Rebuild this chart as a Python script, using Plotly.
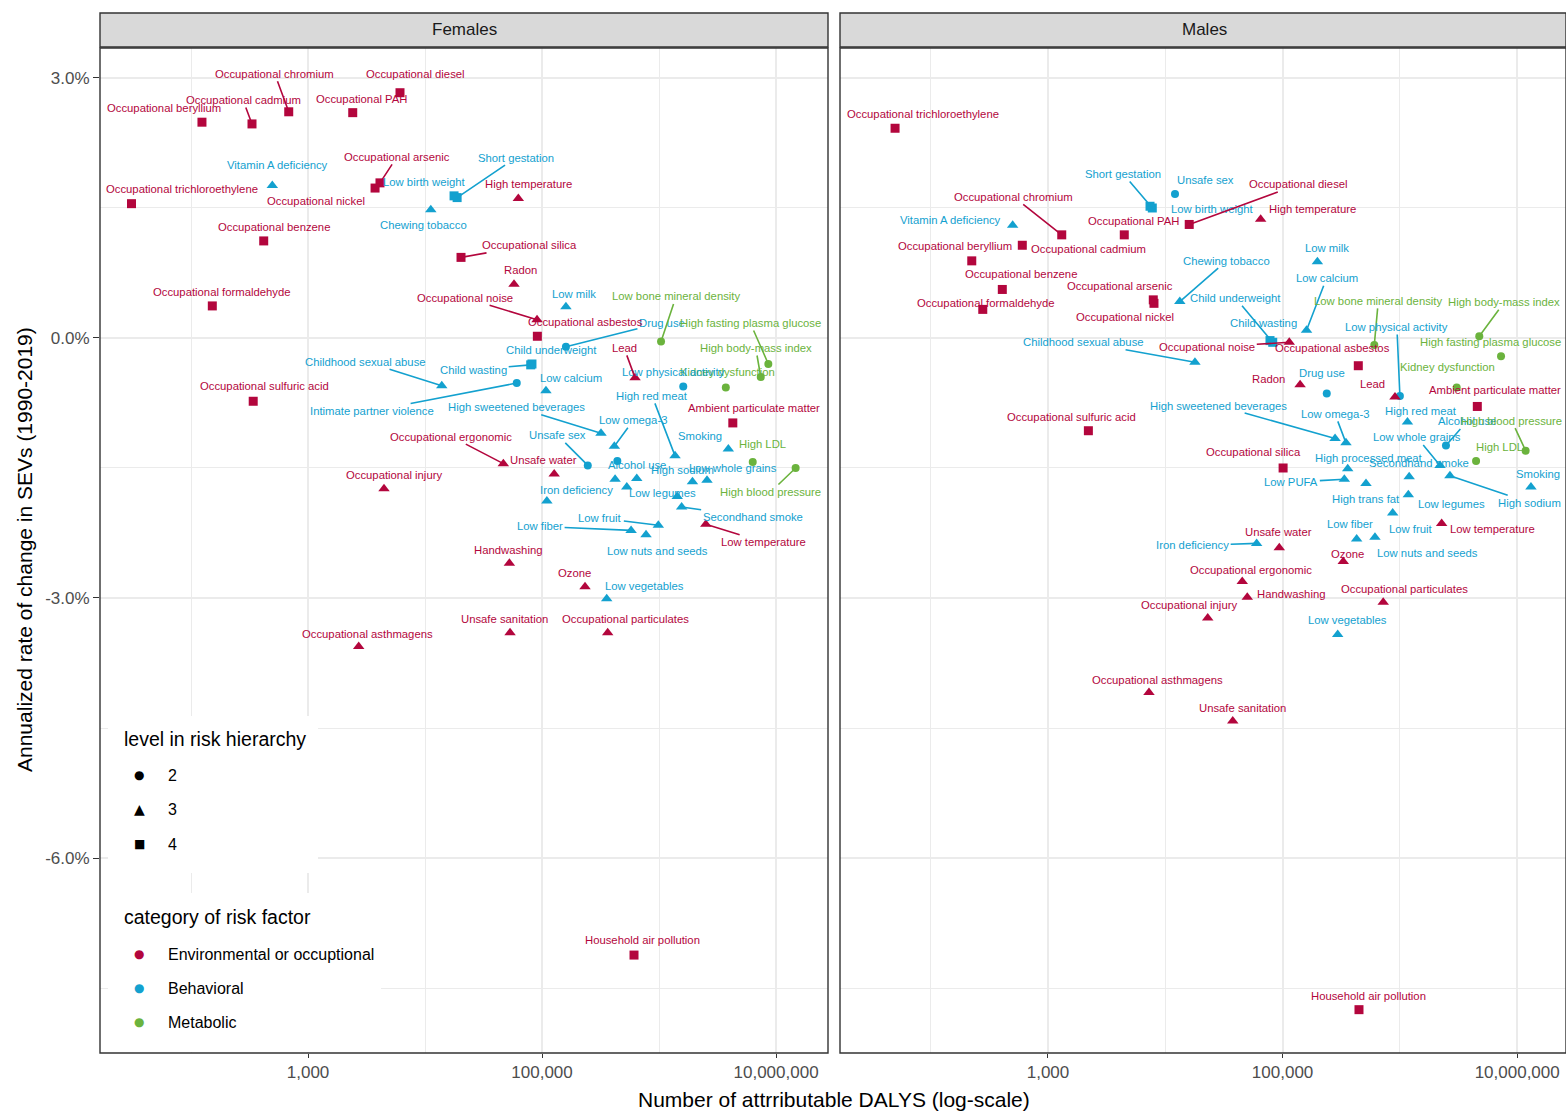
import math
import plotly.graph_objects as go

# ---------------- data: Females ----------------
f_risk = ["Occupational beryllium", "Occupational cadmium", "Occupational chromium", "Occupational PAH",
          "Occupational diesel", "Vitamin A deficiency", "Occupational trichloroethylene", "Occupational arsenic",
          "Occupational nickel", "Low birth weight", "Short gestation", "Chewing tobacco", "Occupational benzene",
          "Occupational silica", "High temperature", "Radon", "Occupational formaldehyde",
          "Occupational sulfuric acid", "Childhood sexual abuse", "Intimate partner violence", "Child wasting",
          "Child underweight", "Drug use", "Low milk", "Occupational noise", "Occupational asbestos",
          "Low bone mineral density", "High fasting plasma glucose", "High body-mass index", "Kidney dysfunction",
          "Low physical activity", "Lead", "Low calcium", "High red meat", "Ambient particulate matter",
          "Low omega-3", "Unsafe sex", "Occupational ergonomic", "Unsafe water", "Smoking", "High LDL",
          "High blood pressure", "Alcohol use", "High sodium", "Low whole grains", "High processed meat",
          "Low PUFA", "High trans fat", "Iron deficiency", "Low legumes", "Secondhand smoke", "Low fiber",
          "Low fruit", "Low nuts and seeds", "Low temperature", "Handwashing", "Ozone", "Low vegetables",
          "Unsafe sanitation", "Occupational particulates", "Occupational injury", "Occupational asthmagens",
          "Household air pollution", "High sweetened beverages"]
f_dalys = [124, 332, 684, 2410, 6110, 495, 31, 4120, 3740, 17700, 18800, 11200, 418, 20300, 62700, 57600, 152,
           340, 13900, 60800, 80000, 82000, 160000, 160000, 90600, 91200, 1040000, 8590000, 7400000, 3720000,
           1610000, 624000, 108000, 1370000, 4270000, 415000, 246000, 46700, 127000, 3910000, 6320000,
           14700000, 440000, 1930000, 2570000, 421000, 645000, 530000, 110000, 1430000, 1560000, 577000,
           986000, 774000, 2510000, 52600, 233000, 357000, 53300, 364000, 4460, 2710, 611000, 319000]
f_change = [2.49, 2.47, 2.61, 2.60, 2.83, 1.76, 1.55, 1.79, 1.73, 1.64, 1.62, 1.48, 1.12, 0.93, 1.61, 0.62, 0.37,
            -0.73, -0.55, -0.52, -0.31, -0.30, -0.10, 0.36, 0.21, 0.02, -0.04, -0.30, -0.45, -0.57, -0.56,
            -0.46, -0.61, -1.36, -0.98, -1.25, -1.47, -1.45, -1.57, -1.28, -1.43, -1.50, -1.42, -1.66, -1.64,
            -1.63, -1.62, -1.72, -1.88, -1.83, -1.95, -2.22, -2.16, -2.27, -2.15, -2.60, -2.87, -3.01, -3.40,
            -3.40, -1.74, -3.56, -7.12, -1.10]
f_level = [4, 4, 4, 4, 4, 3, 4, 4, 4, 4, 4, 3, 4, 4, 3, 3, 4, 4, 3, 2, 4, 4, 2, 3, 3, 4, 2, 2, 2, 2, 2, 3, 3, 3,
           4, 3, 2, 3, 3, 3, 2, 2, 2, 3, 3, 3, 3, 3, 3, 3, 3, 3, 3, 3, 3, 3, 3, 3, 3, 3, 3, 3, 4, 3]
f_cat = ["E", "E", "E", "E", "E", "B", "E", "E", "E", "B", "B", "B", "E", "E", "E", "E", "E", "E", "B", "B", "B",
         "B", "B", "B", "E", "E", "M", "M", "M", "M", "B", "E", "B", "B", "E", "B", "B", "E", "E", "B", "M", "M",
         "B", "B", "B", "B", "B", "B", "B", "B", "B", "B", "B", "B", "E", "E", "E", "B", "E", "E", "E", "E", "E",
         "B"]

# ---------------- data: Males ----------------
m_risk = ["Occupational trichloroethylene", "Short gestation", "Low birth weight", "Unsafe sex",
          "Occupational diesel", "Occupational chromium", "Vitamin A deficiency", "Occupational PAH",
          "Occupational beryllium", "Occupational cadmium", "Occupational benzene", "Occupational arsenic",
          "Occupational nickel", "Occupational formaldehyde", "Childhood sexual abuse",
          "Occupational sulfuric acid", "Chewing tobacco", "Child underweight", "Child wasting", "Low calcium",
          "Low milk", "High temperature", "Occupational noise", "Occupational asbestos",
          "Low bone mineral density", "Low physical activity", "High body-mass index",
          "High fasting plasma glucose", "Kidney dysfunction", "Drug use", "Radon", "Lead",
          "Ambient particulate matter", "High sweetened beverages", "Low omega-3", "High red meat", "Alcohol use",
          "High blood pressure", "Low whole grains", "High LDL", "Occupational silica", "High processed meat",
          "Secondhand smoke", "High sodium", "Low legumes", "Low PUFA", "High trans fat", "Low fruit",
          "Low fiber", "Low nuts and seeds", "Low temperature", "Smoking", "Iron deficiency", "Unsafe water",
          "Ozone", "Occupational ergonomic", "Handwashing", "Occupational particulates", "Occupational injury",
          "Low vegetables", "Occupational asthmagens", "Unsafe sanitation", "Household air pollution"]
m_dalys = [49.7, 7750, 7410, 12100, 16000, 1310, 500, 4470, 224, 604, 408, 7900, 8010, 278, 17900, 2210, 13300,
           82400, 78100, 160000, 198000, 65000, 114000, 442000, 605000, 1000000, 4750000, 7280000, 3050000,
           238000, 141000, 908000, 4570000, 280000, 347000, 1160000, 2470000, 11800000, 2200000, 4460000,
           101000, 359000, 1200000, 2670000, 1180000, 336000, 514000, 868000, 428000, 613000, 2270000, 13100000,
           60100, 93700, 329000, 45300, 50000, 721000, 23000, 295000, 7260, 37600, 448000]
m_change = [2.42, 1.50, 1.52, 1.66, 1.31, 1.19, 1.30, 1.19, 0.89, 1.07, 0.56, 0.44, 0.40, 0.33, -0.28, -1.07,
            0.42, -0.05, -0.03, 0.09, 0.88, 1.37, -0.05, -0.32, -0.08, -0.67, 0.02, -0.21, -0.57, -0.64, -0.54,
            -0.68, -0.79, -1.16, -1.21, -0.97, -1.24, -1.30, -1.47, -1.42, -1.50, -1.51, -1.60, -1.59, -1.81,
            -1.63, -1.68, -2.02, -2.32, -2.30, -2.14, -1.72, -2.37, -2.42, -2.58, -2.81, -2.99, -3.05, -3.23,
            -3.42, -4.09, -4.42, -7.75]
m_level = [4, 4, 4, 2, 4, 4, 3, 4, 4, 4, 4, 4, 4, 4, 3, 4, 3, 4, 4, 3, 3, 3, 3, 4, 2, 2, 2, 2, 2, 2, 3, 3, 4, 3,
           3, 3, 2, 2, 3, 2, 4, 3, 3, 3, 3, 3, 3, 3, 3, 3, 3, 3, 3, 3, 3, 3, 3, 3, 3, 3, 3, 3, 4]
m_cat = ["E", "B", "B", "B", "E", "E", "B", "E", "E", "E", "E", "E", "E", "E", "B", "E", "B", "B", "B", "B", "B",
         "E", "E", "E", "M", "B", "M", "M", "M", "B", "E", "E", "E", "B", "B", "B", "B", "M", "B", "M", "E", "B",
         "B", "B", "B", "B", "B", "B", "B", "B", "E", "B", "B", "E", "E", "E", "E", "E", "E", "B", "E", "E", "E"]

panels = ["Females", "Males"]
x_ticks = [1e3, 1e5, 1e7]
x_ticktext = ["1,000", "100,000", "10,000,000"]
y_ticks = [3, 0, -3, -6]
y_ticktext = ["3.0%", "0.0%", "-3.0%", "-6.0%"]
level_names = ["2", "3", "4"]
cat_codes = ["E", "B", "M"]
cat_names = ["Environmental or occuptional", "Behavioral", "Metabolic"]

# ---------------- styling / label placement (pixel offsets) ----------------
COL = {"E": "#B3063D", "B": "#13A1CF", "M": "#6BB33D"}
SYM = {2: "circle", 3: "triangle-up", 4: "square"}
SIZE = {2: 8, 3: 10, 4: 9}
FONT = "Liberation Sans, Arial, sans-serif"

F_LAB = {
    "Occupational beryllium": (-38, -14, 0), "Occupational cadmium": (-9, -24, 1),
    "Occupational chromium": (-14, -38, 1), "Occupational PAH": (9, -14, 0), "Occupational diesel": (15, -19, 0),
    "Vitamin A deficiency": (5, -20, 0), "Occupational trichloroethylene": (50, -15, 0),
    "Occupational arsenic": (17, -26, 1), "Occupational nickel": (-59, 13, 0), "Low birth weight": (-30, -14, 0),
    "Short gestation": (59, -40, 1), "Chewing tobacco": (-7, 15, 0), "Occupational benzene": (10, -14, 0),
    "Occupational silica": (68, -12, 1), "High temperature": (10, -14, 0), "Radon": (6, -14, 0),
    "Occupational formaldehyde": (10, -14, 0), "Occupational sulfuric acid": (11, -15, 0),
    "Childhood sexual abuse": (-76, -24, 1), "Intimate partner violence": (-145, 28, 1),
    "Child wasting": (-57, 5, 1), "Child underweight": (20, -14, 0), "Drug use": (96, -24, 1),
    "Low milk": (8, -13, 0), "Occupational noise": (-72, -22, 1), "Occupational asbestos": (48, -14, 0),
    "Low bone mineral density": (15, -45, 1), "High fasting plasma glucose": (-18, -41, 1),
    "High body-mass index": (-5, -29, 1), "Kidney dysfunction": (2, -15, 0),
    "Low physical activity": (-10, -15, 0), "Lead": (-11, -30, 1), "Low calcium": (25, -13, 0),
    "High red meat": (-23, -60, 1), "Ambient particulate matter": (21, -15, 0), "Low omega-3": (19, -26, 1),
    "Unsafe sex": (-30, -30, 1), "Occupational ergonomic": (-52, -27, 1), "Unsafe water": (-11, -14, 0),
    "Smoking": (-28, -13, 0), "High LDL": (10, -18, 0), "High blood pressure": (-25, 24, 1),
    "Alcohol use": (20, 4, 0), "High sodium": (-10, -12, 0), "Low whole grains": (26, -12, 0),
    "Iron deficiency": (30, -11, 0), "Low legumes": (-15, -4, 0), "Secondhand smoke": (71, 10, 1),
    "Low fiber": (-91, -4, 1), "Low fruit": (-58, -7, 1), "Low nuts and seeds": (11, 16, 0),
    "Low temperature": (58, 18, 1), "Handwashing": (-1, -13, 0), "Ozone": (-11, -14, 0),
    "Low vegetables": (38, -13, 0), "Unsafe sanitation": (-6, -14, 0), "Occupational particulates": (18, -14, 0),
    "Occupational injury": (10, -14, 0), "Occupational asthmagens": (9, -13, 0),
    "Household air pollution": (8, -15, 0), "High sweetened beverages": (-84, -26, 1),
}
M_LAB = {
    "Occupational trichloroethylene": (28, -14, 0), "Short gestation": (-29, -34, 1),
    "Low birth weight": (62, 3, 0), "Unsafe sex": (30, -14, 0), "Occupational diesel": (109, -40, 1),
    "Occupational chromium": (-48, -38, 1), "Vitamin A deficiency": (-62, -5, 0), "Occupational PAH": (9, -14, 0),
    "Occupational beryllium": (-17, -15, 0), "Occupational cadmium": (66, 4, 0),
    "Occupational benzene": (19, -15, 0), "Occupational arsenic": (-33, -14, 0),
    "Occupational nickel": (-29, 14, 0), "Occupational formaldehyde": (3, -6, 0),
    "Childhood sexual abuse": (-111, -20, 1), "Occupational sulfuric acid": (-17, -14, 0),
    "Chewing tobacco": (47, -41, 1), "Child underweight": (-37, -44, 1), "Child wasting": (-7, -18, 0),
    "Low calcium": (20, -52, 1), "Low milk": (10, -14, 0), "High temperature": (52, -10, 0),
    "Occupational noise": (-82, 5, 1), "Occupational asbestos": (-26, -18, 0),
    "Low bone mineral density": (4, -44, 1), "Low physical activity": (-3, -69, 1),
    "High body-mass index": (25, -34, 1), "High fasting plasma glucose": (-11, -14, 0),
    "Kidney dysfunction": (-9, -20, 0), "Drug use": (-5, -20, 0), "Radon": (-32, -6, 0), "Lead": (-22, -13, 0),
    "Ambient particulate matter": (18, -16, 0), "High sweetened beverages": (-117, -33, 1),
    "Low omega-3": (-11, -29, 1), "High red meat": (14, -11, 0), "Alcohol use": (21, -24, 1),
    "High blood pressure": (-14, -30, 1), "Low whole grains": (-23, -28, 1), "High LDL": (23, -14, 0),
    "Occupational silica": (-30, -16, 0), "High processed meat": (21, -11, 0), "Secondhand smoke": (10, -14, 0),
    "High sodium": (80, 27, 1), "Low legumes": (43, 9, 0), "Low PUFA": (-53, 3, 1), "High trans fat": (0, 15, 0),
    "Low fruit": (18, 16, 0), "Low fiber": (-7, -15, 0), "Low nuts and seeds": (53, 16, 0),
    "Low temperature": (51, 6, 0), "Smoking": (7, -13, 0), "Iron deficiency": (-64, 2, 1),
    "Unsafe water": (-1, -16, 0), "Ozone": (4, -8, 0), "Occupational ergonomic": (9, -12, 0),
    "Handwashing": (44, -3, 0), "Occupational particulates": (21, -13, 0), "Occupational injury": (-19, -13, 0),
    "Low vegetables": (10, -14, 0), "Occupational asthmagens": (9, -12, 0), "Unsafe sanitation": (10, -13, 0),
    "Household air pollution": (10, -14, 0),
}

# figure fills the whole window (page margin removed below)
OFF = 0
W, H = 1566, 1112
ML, MR, MT, MB = 100, 0, 48, 59
PW, PH = W - ML - MR, H - MT - MB


def px(sx):
    return (sx - OFF - ML) / PW


def py(sy):
    return (H - MB - (sy - OFF)) / PH


dom_f = [0, px(828)]
dom_m = [px(840), 1]

fig = go.Figure()

datasets = [(f_risk, f_dalys, f_change, f_level, f_cat, F_LAB, "x", "y"),
            (m_risk, m_dalys, m_change, m_level, m_cat, M_LAB, "x2", "y2")]

for risk, dalys, chg, lev, cat, lab, xa, ya in datasets:
    fig.add_trace(go.Scatter(
        x=dalys, y=chg, mode="markers", xaxis=xa, yaxis=ya, text=risk, hoverinfo="text",
        marker=dict(symbol=[SYM[l] for l in lev], size=[SIZE[l] for l in lev], opacity=1,
                    color=[COL[c] for c in cat], line=dict(width=0)),
        showlegend=False))
    for n, d, c, k in zip(risk, dalys, chg, cat):
        if n not in lab:
            continue
        dx, dy, seg = lab[n]
        fig.add_annotation(
            x=math.log10(d), y=c, xref=xa, yref=ya, text=n, showarrow=True,
            ax=dx, ay=dy, axref="pixel", ayref="pixel", arrowhead=0, arrowwidth=1.6, standoff=0,
            xanchor="center", yanchor="middle",
            arrowcolor=COL[k] if seg else "rgba(0,0,0,0)",
            font=dict(size=11.3, color=COL[k], family=FONT))

grid = "#EBEBEB"
xcommon = dict(type="log", tickmode="array", tickvals=x_ticks, ticktext=x_ticktext,
               showgrid=True, gridcolor=grid, gridwidth=2, zeroline=False, showline=False,
               ticks="outside", ticklen=4, tickcolor="#333333", tickwidth=1.2,
               tickfont=dict(size=17, color="#4D4D4D", family=FONT),
               minor=dict(tickmode="array", tickvals=[1e2, 1e4, 1e6], showgrid=True, gridcolor=grid,
                          gridwidth=1, ticks=""))
ycommon = dict(range=[-8.25, 3.346], tickmode="array", tickvals=y_ticks, ticktext=y_ticktext,
               showgrid=True, gridcolor=grid, gridwidth=2, zeroline=False, showline=False,
               minor=dict(tickmode="array", tickvals=[1.5, -1.5, -4.5, -7.5], showgrid=True, gridcolor=grid,
                          gridwidth=1, ticks=""))

fig.update_layout(
    width=W, height=H, margin=dict(l=ML, r=MR, t=MT, b=MB),
    paper_bgcolor="white", plot_bgcolor="white",
    font=dict(family=FONT),
    xaxis=dict(domain=dom_f, anchor="y", range=[1.222, 7.444], **xcommon),
    xaxis2=dict(domain=dom_m, anchor="y2", range=[1.227, 7.416], **xcommon),
    yaxis=dict(domain=[0, 1], anchor="x", ticks="outside", ticklen=6, tickcolor="#333333", tickwidth=1.2,
               tickfont=dict(size=17, color="#4D4D4D", family=FONT), **ycommon),
    yaxis2=dict(domain=[0, 1], anchor="x2", matches="y", showticklabels=False, ticks="", **ycommon),
    hovermode="closest",
)

shapes = []
# legend background boxes
shapes.append(dict(type="rect", xref="paper", yref="paper", x0=px(108), x1=px(318), y0=py(873), y1=py(716),
                   fillcolor="white", line=dict(width=0), layer="above"))
shapes.append(dict(type="rect", xref="paper", yref="paper", x0=px(108), x1=px(381), y0=py(1052), y1=py(893),
                   fillcolor="white", line=dict(width=0), layer="above"))
# panel borders and facet strips
for dom, name in zip([dom_f, dom_m], panels):
    shapes.append(dict(type="rect", xref="paper", yref="paper", x0=dom[0], x1=dom[1], y0=0, y1=1,
                       line=dict(color="#333333", width=1.4), fillcolor="rgba(0,0,0,0)", layer="above"))
    shapes.append(dict(type="rect", xref="paper", yref="paper", x0=dom[0], x1=dom[1], y0=py(47), y1=py(13),
                       line=dict(color="#333333", width=1.4), fillcolor="#D9D9D9", layer="above"))
    fig.add_annotation(x=(px(464) if name == "Females" else px(1204)), y=py(29),
                       xref="paper", yref="paper", text=name,
                       xanchor="center", yanchor="middle",
                       showarrow=False, font=dict(size=17, color="#1A1A1A", family=FONT))
fig.update_layout(shapes=shapes)

# axis titles
fig.add_annotation(x=px(834), y=py(1099), xref="paper", yref="paper", showarrow=False,
                   xanchor="center", yanchor="middle",
                   text="Number of attrributable DALYS (log-scale)",
                   font=dict(size=21, color="#000000", family=FONT))
fig.add_annotation(x=px(24), y=py(550), xref="paper", yref="paper", showarrow=False, textangle=-90,
                   xanchor="center", yanchor="middle",
                   text="Annualized rate of change in SEVs (1990-2019)",
                   font=dict(size=21, color="#000000", family=FONT))

# legends
fig.add_annotation(x=px(122), y=py(739), xref="paper", yref="paper", xanchor="left", yanchor="middle",
                   showarrow=False,
                   text="level in risk hierarchy", font=dict(size=19.5, color="#000000", family=FONT))
glyph = {"2": "\u25CF", "3": "\u25B2", "4": "\u25A0"}
for i, nm in enumerate(level_names):
    yy = [775, 809, 844][i]
    fig.add_annotation(x=px(139), y=py(yy), xref="paper", yref="paper", showarrow=False, text=glyph[nm],
                       xanchor="center", yanchor="middle",
                       font=dict(size=[12, 14, 12][i], color="#000000", family="DejaVu Sans"))
    fig.add_annotation(x=px(166), y=py(yy), xref="paper", yref="paper", xanchor="left", yanchor="middle",
                       showarrow=False, text=nm, font=dict(size=16, color="#000000", family=FONT))
fig.add_annotation(x=px(122), y=py(917), xref="paper", yref="paper", xanchor="left", yanchor="middle",
                   showarrow=False,
                   text="category of risk factor", font=dict(size=19.5, color="#000000", family=FONT))
for i, (code, nm) in enumerate(zip(cat_codes, cat_names)):
    yy = [954, 988, 1022][i]
    fig.add_annotation(x=px(139), y=py(yy), xref="paper", yref="paper", showarrow=False, text="\u25CF",
                       xanchor="center", yanchor="middle",
                       font=dict(size=12, color=COL[code], family="DejaVu Sans"))
    fig.add_annotation(x=px(166), y=py(yy), xref="paper", yref="paper", xanchor="left", yanchor="middle",
                       showarrow=False, text=nm, font=dict(size=16, color="#000000", family=FONT))

fig.write_html("out.html", config={"displayModeBar": False},
               post_script="document.body.style.margin='0';document.body.style.overflow='hidden';")
